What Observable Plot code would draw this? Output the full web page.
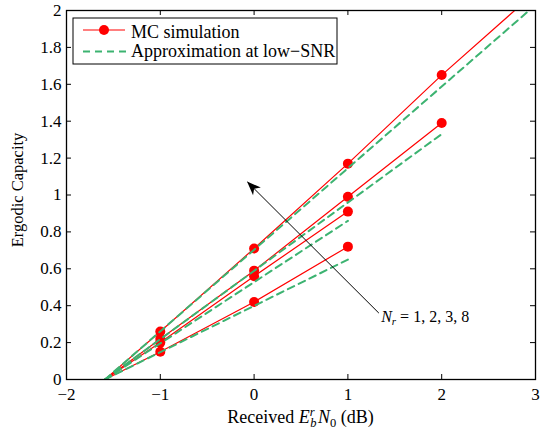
<!DOCTYPE html>
<html><head><meta charset="utf-8">
<script src="https://cdn.jsdelivr.net/npm/d3@7"></script>
<script src="https://cdn.jsdelivr.net/npm/@observablehq/plot@0.6"></script>
<style>body{margin:0;background:#fff} svg{display:block}</style>
</head><body><div id="chart"></div>
<script>
// ---- data ----
const xTicks = [-2, -1, 0, 1, 2, 3];
const yTicks = [0, 0.2, 0.4, 0.6, 0.8, 1, 1.2, 1.4, 1.6, 1.8, 2];
const nrLabels = ["1", "2", "3", "8"];
const ebN0Min = -1.59;               // all curves start at (-1.59 dB, 0)
const simX = [-1, 0, 1, 2];
const simNr1 = [0.15, 0.42, 0.72];
const simNr2 = [0.20, 0.56, 0.91];
const simNr3 = [0.22, 0.59, 0.99, 1.39];
const simNr8 = [0.26, 0.71, 1.17, 1.65];
const simNr8Tail = [3, 2.10];        // simulated curve continues past the last marker
const approxEndX = [1, 1, 2, 3];
const approxEndY = [0.65, 0.86, 1.33, 2.03];
const arrowFrom = [1.33, 0.36];
const arrowTo = [-0.07, 1.07];
const noteAt = [1.36, 0.31];

// ---- build tables ----
const simSeries = [simNr1, simNr2, simNr3, simNr8];
const simLineRows = [], simDotRows = [];
simSeries.forEach((ys, i) => {
  simLineRows.push({nr: nrLabels[i], x: ebN0Min, y: 0});
  ys.forEach((y, j) => {
    simLineRows.push({nr: nrLabels[i], x: simX[j], y});
    simDotRows.push({nr: nrLabels[i], x: simX[j], y});
  });
});
simLineRows.push({nr: "8", x: simNr8Tail[0], y: simNr8Tail[1]});
const approxRows = [];
approxEndX.forEach((ex, i) => {
  approxRows.push({nr: nrLabels[i], x: ebN0Min, y: 0});
  approxRows.push({nr: nrLabels[i], x: ex, y: approxEndY[i]});
});

const W = 543, H = 435, mL = 66, mR = 8, mT = 10, mB = 56;
const innerW = W - mL - mR, innerH = H - mT - mB;
const RED = "#ff0000", GREEN = "#3cb371";
const serif = "'Liberation Serif', 'Times New Roman', 'DejaVu Serif', serif";
const fmtX = d => d < 0 ? "\u2212" + Math.abs(d) : String(d);
const fmtY = d => String(+d.toFixed(1));

const chart = Plot.plot({
  width: W, height: H,
  marginLeft: mL, marginRight: mR, marginTop: mT, marginBottom: mB,
  style: {fontFamily: serif, fontSize: "17px", color: "#000", background: "#fff"},
  x: {domain: [-2, 3], label: null},
  y: {domain: [0, 2], label: null},
  marks: [
    Plot.ruleX(xTicks, {x: d => d, insetTop: innerH - 5, stroke: "#000", strokeWidth: 1}),
    Plot.ruleX(xTicks, {x: d => d, insetBottom: innerH - 5, stroke: "#000", strokeWidth: 1}),
    Plot.ruleY(yTicks, {y: d => d, insetRight: innerW - 5, stroke: "#000", strokeWidth: 1}),
    Plot.ruleY(yTicks, {y: d => d, insetLeft: innerW - 5, stroke: "#000", strokeWidth: 1}),
    Plot.axisX(xTicks, {tickSize: 0, tickPadding: 8, tickFormat: fmtX, fontSize: 17, label: null}),
    Plot.axisY(yTicks, {tickSize: 0, tickPadding: 5, tickFormat: fmtY, fontSize: 17, label: null}),
    Plot.line(simLineRows, {x: "x", y: "y", z: "nr", stroke: RED, strokeWidth: 1.2, clip: true}),
    Plot.dot(simDotRows, {x: "x", y: "y", r: 5, fill: RED, stroke: "none"}),
    Plot.line(approxRows, {x: "x", y: "y", z: "nr", stroke: GREEN, strokeWidth: 2, strokeDasharray: "7,5", clip: true}),
    Plot.link([{a: arrowFrom, b: arrowTo}], {x1: d => d.a[0], y1: d => d.a[1], x2: d => d.b[0], y2: d => d.b[1], stroke: "#000", strokeWidth: 1}),
    Plot.frame({stroke: "#000", strokeWidth: 1.3})
  ]
});
document.getElementById("chart").appendChild(chart);

const sx = chart.scale("x"), sy = chart.scale("y");
const svg = d3.select(chart);

// arrowhead (filled, notched)
{
  const x1 = sx.apply(arrowFrom[0]), y1 = sy.apply(arrowFrom[1]);
  const x2 = sx.apply(arrowTo[0]), y2 = sy.apply(arrowTo[1]);
  const a = Math.atan2(y2 - y1, x2 - x1);
  const L = 14, Wd = 5.5, N = 10;
  const ux = Math.cos(a), uy = Math.sin(a), px = -uy, py = ux;
  const pts = [
    [x2, y2],
    [x2 - L * ux + Wd * px, y2 - L * uy + Wd * py],
    [x2 - N * ux, y2 - N * uy],
    [x2 - L * ux - Wd * px, y2 - L * uy - Wd * py]
  ];
  svg.append("polygon").attr("points", pts.map(p => p.join(",")).join(" ")).attr("fill", "#000");
}

// annotation N_r = 1,2,3,8
{
  const t = svg.append("text")
    .attr("x", sx.apply(noteAt[0])).attr("y", sy.apply(noteAt[1]))
    .attr("text-anchor", "start")
    .attr("font-family", serif).attr("font-size", 16).attr("fill", "#000");
  t.append("tspan").attr("font-style", "italic").text("N");
  t.append("tspan").attr("font-style", "italic").attr("font-size", 11).attr("dy", 3).text("r");
  t.append("tspan").attr("dy", -3).text(" = 1, 2, 3, 8");
}

// y label
svg.append("text")
  .attr("transform", "translate(17.5,190) rotate(-90)")
  .attr("text-anchor", "middle").attr("dominant-baseline", "central")
  .attr("font-family", serif).attr("font-size", 16.5).attr("fill", "#000")
  .text("Ergodic Capacity");

// x label
{
  const t = svg.append("text")
    .attr("x", (mL + W - mR) / 2).attr("y", 423)
    .attr("text-anchor", "middle")
    .attr("font-family", serif).attr("font-size", 18).attr("fill", "#000");
  t.append("tspan").text("Received ");
  t.append("tspan").attr("font-style", "italic").text("E");
  t.append("tspan").attr("font-style", "italic").attr("font-size", 12.5).attr("dy", -7).text("r");
  t.append("tspan").attr("font-style", "italic").attr("font-size", 12.5).attr("dx", -4.5).attr("dy", 11).text("b");
  t.append("tspan").attr("font-style", "italic").attr("dx", 1.5).attr("dy", -4).text("N");
  t.append("tspan").attr("font-size", 12.5).attr("dy", 4).text("0");
  t.append("tspan").attr("dy", -4).text(" (dB)");
}

// legend
{
  const g = svg.append("g").attr("font-family", serif).attr("font-size", 18).attr("text-anchor", "start");
  g.append("rect").attr("x", 73).attr("y", 18).attr("width", 264).attr("height", 46)
    .attr("fill", "#fff").attr("stroke", "#000").attr("stroke-width", 1);
  g.append("line").attr("x1", 83).attr("x2", 125).attr("y1", 30).attr("y2", 30)
    .attr("stroke", RED).attr("stroke-width", 1.2);
  g.append("circle").attr("cx", 104).attr("cy", 30).attr("r", 5).attr("fill", RED);
  g.append("text").attr("x", 131).attr("y", 37.5).attr("fill", "#000").text("MC simulation");
  g.append("line").attr("x1", 83).attr("x2", 127).attr("y1", 51.5).attr("y2", 51.5)
    .attr("stroke", GREEN).attr("stroke-width", 2).attr("stroke-dasharray", "7,5");
  g.append("text").attr("x", 131).attr("y", 57).attr("fill", "#000").text("Approximation at low\u2212SNR");
}
</script></body></html>
